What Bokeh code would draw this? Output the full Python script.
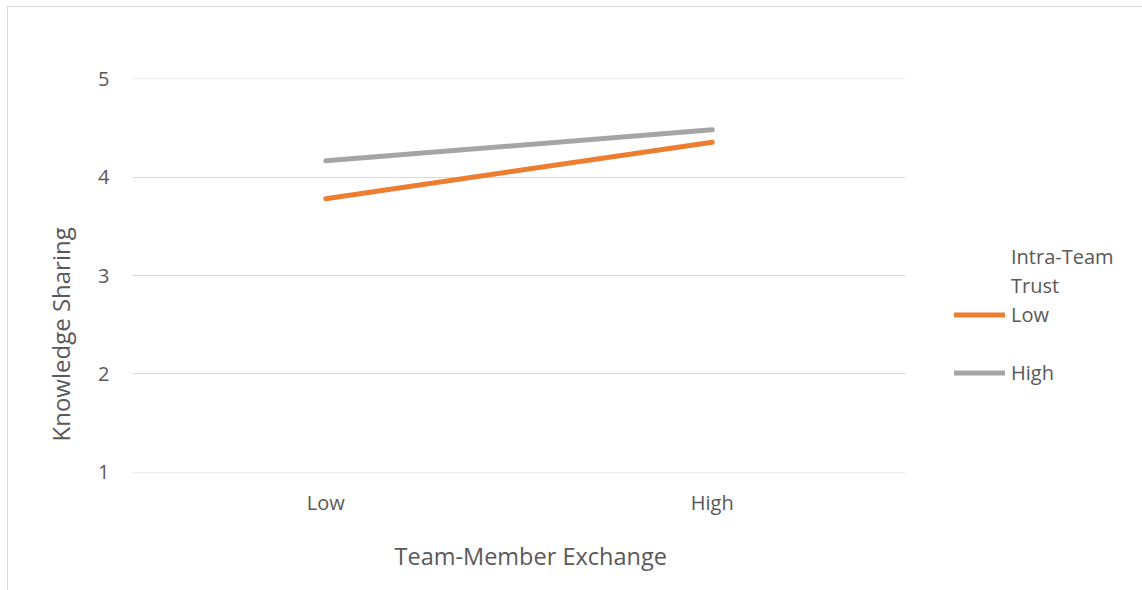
from bokeh.plotting import figure
from bokeh.layouts import row
from bokeh.models import Legend, LegendItem, Title, FactorRange, Range1d
from bokeh.embed import file_html
from bokeh.resources import INLINE

# ---- data ----
categories = ["Low", "High"]
trust_low = [3.78, 4.355]
trust_high = [4.165, 4.48]
y_ticks = [1, 2, 3, 4, 5]
series_labels = ["Low", "High"]
legend_title_lines = ["Intra-Team", "Trust"]
x_title = "Team-Member Exchange"
y_title = "Knowledge Sharing"

TEXT = "#595959"
FONT = "Open Sans"
ORANGE = "#ED7D31"
GRAY = "#A5A5A5"

# ---- main chart ----
p = figure(
    x_range=FactorRange(*categories, range_padding=0),
    y_range=Range1d(0.998, 5.002),
    width=917, height=583,
    output_backend="svg", toolbar_location=None,
    min_border_left=124, min_border_right=20,
    min_border_top=71, min_border_bottom=117,
)
p.outline_line_color = None
p.background_fill_color = "white"
p.border_fill_color = "white"

p.line(x=categories, y=trust_low, line_color=ORANGE, line_width=5, line_cap="round")
p.line(x=categories, y=trust_high, line_color=GRAY, line_width=5, line_cap="round")

p.yaxis.ticker = y_ticks
p.ygrid.ticker = y_ticks
p.xgrid.grid_line_color = None
p.ygrid.grid_line_color = "#D9D9D9"
p.ygrid.grid_line_width = 1
for ax in (p.xaxis, p.yaxis):
    ax.axis_line_color = None
    ax.major_tick_line_color = None
    ax.minor_tick_line_color = None
    ax.major_label_text_font = FONT
    ax.major_label_text_font_size = "20px"
    ax.major_label_text_color = TEXT
p.yaxis.major_label_standoff = 17
p.xaxis.major_label_standoff = 10

p.add_layout(Title(text=x_title, align="left", offset=262, standoff=38,
                   text_font=FONT, text_font_size="23.5px", text_font_style="normal",
                   text_color=TEXT), "below")
p.add_layout(Title(text=y_title, align="left", offset=31, standoff=37,
                   text_font=FONT, text_font_size="24px", text_font_style="normal",
                   text_color=TEXT), "left")

# ---- legend panel (series drawn outside its visible range; only swatches show) ----
q = figure(width=217, height=583, output_backend="svg", toolbar_location=None,
           x_range=FactorRange(*categories, range_padding=0), y_range=Range1d(-2, -1),
           x_axis_type=None, y_axis_type=None,
           min_border_left=0, min_border_right=0, min_border_top=0, min_border_bottom=0)
q.outline_line_color = None
q.xgrid.grid_line_color = None
q.ygrid.grid_line_color = None
q.background_fill_color = "white"
q.border_fill_color = "white"

sw_low = q.line(x=categories, y=trust_low, line_color=ORANGE, line_width=5, line_cap="round")
sw_high = q.line(x=categories, y=trust_high, line_color=GRAY, line_width=5, line_cap="round")
sw_none = q.line(x=categories, y=trust_low, line_alpha=0)

legend = Legend(
    items=[LegendItem(label=legend_title_lines[0], renderers=[sw_none]),
           LegendItem(label=legend_title_lines[1], renderers=[sw_none]),
           LegendItem(label=series_labels[0], renderers=[sw_low]),
           LegendItem(label=" ", renderers=[sw_none]),
           LegendItem(label=series_labels[1], renderers=[sw_high])],
    location=(29, 86), orientation="vertical",
    padding=0, margin=0, spacing=2,
    glyph_width=51, glyph_height=27, label_height=27, label_standoff=6,
    label_text_font=FONT, label_text_font_size="20px", label_text_color=TEXT,
    border_line_color=None, background_fill_alpha=0,
)
q.add_layout(legend)

layout = row(p, q)
layout.margin = (6, 0, 0, 7)
layout.styles = {"border-left": "1px solid #D9D9D9", "border-top": "1px solid #D9D9D9"}

open("out.html", "w").write(file_html(layout, INLINE))
